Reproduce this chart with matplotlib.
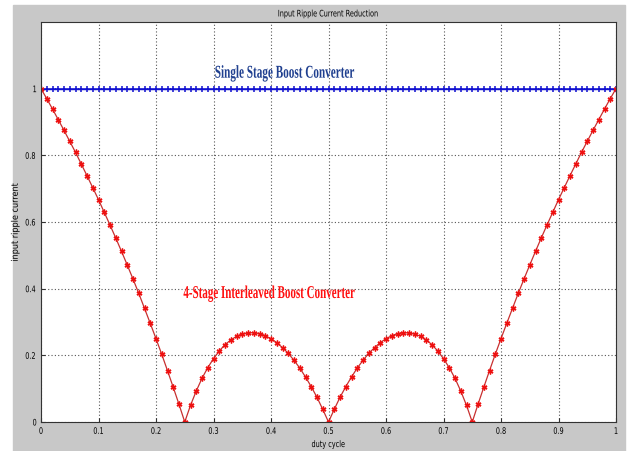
import matplotlib.pyplot as plt
from matplotlib import patheffects
from matplotlib.transforms import Affine2D

# duty cycle samples 0.00 .. 1.00 in steps of 0.01
duty = [round(i * 0.01, 2) for i in range(101)]

single_stage = [1.0] * 101

# values, first half (0.00 .. 0.50); the curve is mirrored about 0.5
half = [1.00, 0.970, 0.939, 0.907, 0.875, 0.842, 0.809, 0.774, 0.739, 0.703,
        0.667, 0.629, 0.591, 0.552, 0.512, 0.471, 0.429, 0.386, 0.341, 0.296,
        0.250, 0.203, 0.154, 0.104, 0.053, 0.0,
        0.050, 0.093, 0.131, 0.163, 0.190, 0.213, 0.232, 0.246, 0.257,
        0.264, 0.267, 0.268, 0.265, 0.259, 0.250, 0.238, 0.223, 0.206,
        0.185, 0.162, 0.135, 0.106, 0.074, 0.038, 0.0]
interleaved = half + half[-2::-1]

x_ticks = [0, 0.1, 0.2, 0.3, 0.4, 0.5, 0.6, 0.7, 0.8, 0.9, 1]
y_ticks = [0, 0.2, 0.4, 0.6, 0.8, 1]


class Squeeze(patheffects.AbstractPathEffect):
    """narrow the glyphs horizontally around the centre of the string"""
    def __init__(self, sx):
        super().__init__()
        self.sx = sx

    def draw_path(self, renderer, gc, tpath, affine, rgbFace=None):
        ext = tpath.get_extents()
        cx = (ext.x0 + ext.x1) / 2
        sq = Affine2D().translate(-cx, 0).scale(self.sx, 1).translate(cx, 0)
        renderer.draw_path(gc, tpath, sq + affine, rgbFace)


narrow = [Squeeze(0.72)]

fig = plt.figure(figsize=(6.28, 4.52), dpi=100)
fig.patch.set_facecolor('white')
# grey matlab figure panel
fig.add_artist(plt.Rectangle((13 / 628, 0), 612 / 628, 1 - 6 / 452,
                             transform=fig.transFigure, color='#c8c8c8', zorder=-1))

ax = fig.add_axes([41 / 628, 1 - 423 / 452, 575 / 628, 400 / 452])
ax.set_facecolor('white')

ax.plot(duty, single_stage, color='#1010d0', marker='+', markersize=4,
        markeredgewidth=1.1, linewidth=1)
ax.plot(duty, interleaved, color='#c83030', marker=(6, 2, 0), markersize=4.2,
        markeredgecolor='#ee1010', markeredgewidth=1.0, linewidth=0.9)

ax.set_xlim(0, 1)
ax.set_ylim(0, 1.2)
ax.set_xticks(x_ticks)
ax.set_xticklabels([f'{t:g}' for t in x_ticks])
ax.set_yticks(y_ticks)
ax.set_yticklabels([f'{t:g}' for t in y_ticks])
ax.tick_params(labelsize=6.5, direction='in', length=3, color='#333333')
ax.tick_params(axis='y', pad=2.5)
for lbl in ax.get_xticklabels() + ax.get_yticklabels():
    lbl.set_path_effects(narrow)
ax.grid(True, linestyle=(0, (1, 2)), color='#555555', linewidth=0.8)
for s in ax.spines.values():
    s.set_color('#333333')

ax.set_title('Input Ripple Current Reduction', fontsize=6.5, pad=4,
             path_effects=narrow)
ax.set_xlabel('duty cycle', fontsize=6.5, labelpad=3, path_effects=narrow)
ax.set_ylabel('input ripple current', fontsize=6.5,
              path_effects=[Squeeze(0.9)])
ax.yaxis.set_label_coords(-0.037, 0.5)

ax.text(0.4226, 1.033, 'Single Stage Boost Converter', color='#1f3f8f',
        fontsize=13, fontweight='bold', family='Liberation Serif',
        ha='center', va='baseline', path_effects=[Squeeze(0.62)])
ax.text(0.3957, 0.372, '4-Stage Interleaved Boost Converter', color='#ff1010',
        fontsize=13, fontweight='bold', family='Liberation Serif',
        ha='center', va='baseline', path_effects=[Squeeze(0.61)])

fig.savefig('out.png', dpi=100)
